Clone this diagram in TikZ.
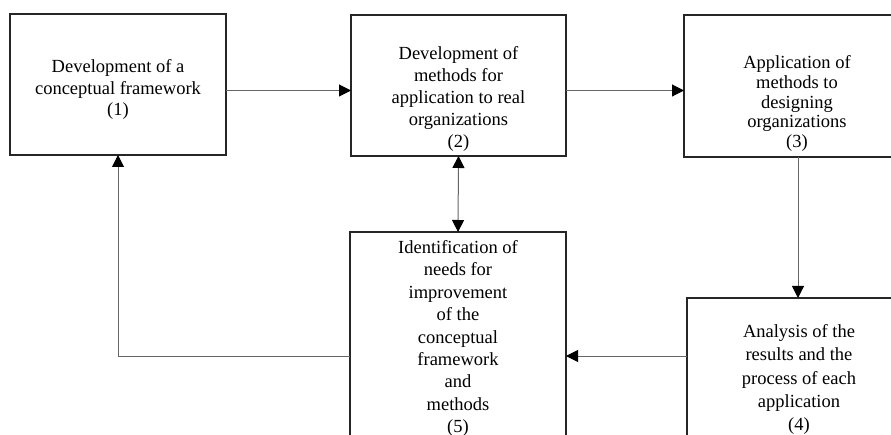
\documentclass[tikz,border=0pt]{standalone}
\usepackage{fontspec}
\setmainfont{Liberation Serif}
\usetikzlibrary{arrows.meta}
\begin{document}
\begin{tikzpicture}[x=1pt,y=-1pt,
  >={Triangle[length=12pt,width=12pt,color=black]},
  box/.style={draw=black!85, line width=1.4pt, rectangle, inner sep=0pt, outer sep=0pt},
  txt/.style={align=center, inner sep=0pt, font=\fontsize{18.5}{#1}\selectfont},
  link/.style={draw=black!60, line width=1pt}]
  \useasboundingbox (0,0) rectangle (891,435);
  \clip (0,0) rectangle (891,435);

  % boxes (the right and bottom ones run past the frame)
  \node[box, minimum width=216pt, minimum height=141pt] (b1) at (118,84.5) {};
  \node[box, minimum width=215pt, minimum height=141pt] (b2) at (458.5,85.5) {};
  \node[box, minimum width=228pt, minimum height=142pt] (b3) at (798,86) {};
  \node[box, minimum width=216pt, minimum height=218pt] (b5) at (458,341) {};
  \node[box, minimum width=224pt, minimum height=152pt] (b4) at (799,374) {};

  % box texts
  \node[txt=21.5] (t1) at (118,89.5) {Development of a\\conceptual framework\\(1)};
  \node[txt=22] (t2) at (458.5,98.5) {Development of\\methods for\\application to real\\organizations\\(2)};
  \node[txt=19.8] (t3) at (797,103.5) {Application of\\methods to\\designing\\organizations\\(3)};
  \node[txt=22.4] (t5) at (458,338.5) {Identification of\\needs for\\improvement\\of the\\conceptual\\framework\\and\\methods\\(5)};
  \node[txt=23.2] (t4) at (799,379.5) {Analysis of the\\results and the\\process of each\\application\\(4)};

  % routing heights
  \coordinate (top) at (0,90.5);
  \coordinate (low) at (0,356);
  \coordinate (back) at (118,0);

  % connectors
  \draw[link,->] (b1.east |- top) -- (b2.west |- top);
  \draw[link,->] (b2.east |- top) -- (b3.west |- top);
  \draw[link,->] (b3.south) -- (b3.south |- b4.north);
  \draw[link,->] (b4.west |- low) -- (b5.east |- low);
  \draw[link,->] (b5.west |- low) -- (back |- low) -- (b1.south);
  \draw[link,<->] (b2.south) -- (b5.north);
\end{tikzpicture}
\end{document}
